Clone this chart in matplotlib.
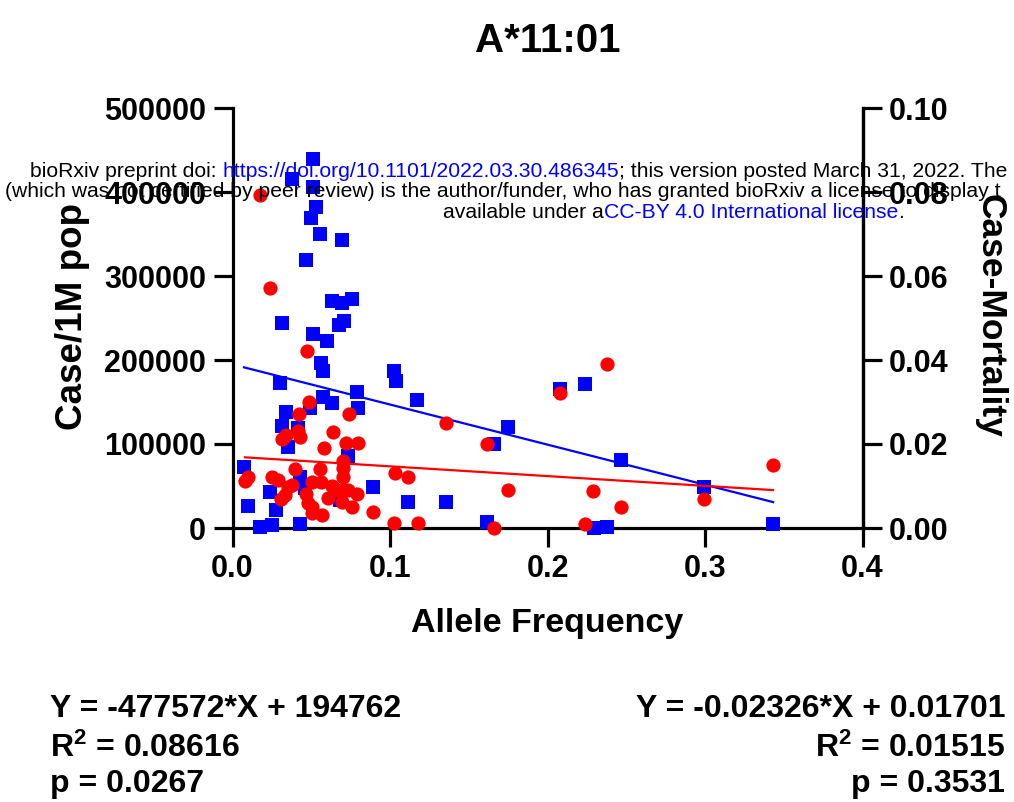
import matplotlib
matplotlib.use("Agg")
import matplotlib.pyplot as plt
import numpy as np

plt.rcParams['font.family'] = ['Liberation Sans', 'DejaVu Sans']
plt.rcParams['mathtext.fontset'] = 'custom'
plt.rcParams['mathtext.rm'] = 'Liberation Sans:bold'
plt.rcParams['mathtext.bf'] = 'Liberation Sans:bold'
plt.rcParams['mathtext.it'] = 'Liberation Sans:bold'

title = "A*11:01"
xlabel = "Allele Frequency"
ylabel_left = "Case/1M pop"
ylabel_right = "Case-Mortality"

# Blue squares: allele frequency vs cases per 1M population
case_x = [0.0511, 0.0378, 0.0511, 0.0530, 0.0498, 0.0556, 0.0695, 0.0467,
          0.0632, 0.0695, 0.0759, 0.0314, 0.0676, 0.0708, 0.0511, 0.0600,
          0.0562, 0.0575, 0.0302, 0.0790, 0.0575, 0.0632, 0.0797, 0.0492,
          0.0340, 0.0314, 0.0416, 0.0352, 0.0733, 0.0073, 0.0429, 0.0238,
          0.0460, 0.0683, 0.0892, 0.0098, 0.0276, 0.0175, 0.0251, 0.0429,
          0.1025, 0.1038, 0.1171, 0.1749, 0.1660, 0.1114, 0.1356, 0.1616,
          0.2079, 0.2238, 0.2467, 0.2295, 0.2378, 0.2994, 0.3432]
case_y = [439000, 415000, 406000, 382000, 369000, 350000, 343000, 319000,
          270000, 268000, 273000, 244000, 242000, 246000, 231000, 223000,
          196000, 187000, 173000, 162000, 156000, 149000, 143000, 143000,
          138000, 121000, 119000, 96000, 86000, 73000, 61000, 43000,
          48000, 33000, 49000, 26000, 21000, 1500, 3500, 5000,
          187000, 175000, 152000, 120000, 100000, 31000, 31000, 7000,
          165000, 172000, 81000, 500, 1000, 49000, 4500]

# Red circles: allele frequency vs case-mortality
mort_x = [0.0175, 0.0238, 0.0473, 0.0486, 0.0422, 0.0740, 0.0340, 0.0314,
          0.0416, 0.0429, 0.0638, 0.0581, 0.0721, 0.0797, 0.0702, 0.0702,
          0.0702, 0.0695, 0.0695, 0.0079, 0.0098, 0.0251, 0.0289, 0.0397,
          0.0505, 0.0562, 0.0556, 0.0352, 0.0378, 0.0333, 0.0308, 0.0467,
          0.0632, 0.0663, 0.0733, 0.0790, 0.0606, 0.0759, 0.0892, 0.0505,
          0.0505, 0.0568, 0.0479, 0.1356, 0.1616, 0.1032, 0.1114, 0.1749,
          0.1025, 0.1178, 0.1660, 0.2079, 0.2378, 0.2289, 0.2467, 0.2238,
          0.2994, 0.3432]
mort_y = [0.0793, 0.0571, 0.0421, 0.0300, 0.0272, 0.0272, 0.0221, 0.0212,
          0.0231, 0.0217, 0.0229, 0.0190, 0.0202, 0.0202, 0.0160, 0.0143,
          0.0121, 0.0090, 0.0062, 0.0112, 0.0121, 0.0121, 0.0114, 0.0140,
          0.0110, 0.0110, 0.0140, 0.0098, 0.0102, 0.0079, 0.0069, 0.0081,
          0.0100, 0.0090, 0.0090, 0.0081, 0.0071, 0.0050, 0.0038, 0.0050,
          0.0036, 0.0031, 0.0060, 0.0250, 0.0200, 0.0131, 0.0121, 0.0090,
          0.0012, 0.0012, 0.0001, 0.0321, 0.0390, 0.0088, 0.0050, 0.0010,
          0.0069, 0.0150]

# Regression results (as printed)
case_fit = [-477572, 194762]
mort_fit = [-0.02326, 0.01701]
case_stats = ["Y = -477572*X + 194762", r"R$^{2}$ = 0.08616", "p = 0.0267"]
mort_stats = ["Y = -0.02326*X + 0.01701", r"R$^{2}$ = 0.01515", "p = 0.3531"]

x_ticks = [0.0, 0.1, 0.2, 0.3, 0.4]
x_ticklabels = ["0.0", "0.1", "0.2", "0.3", "0.4"]
yl_ticks = [0, 100000, 200000, 300000, 400000, 500000]
yl_ticklabels = ["0", "100000", "200000", "300000", "400000", "500000"]
yr_ticks = [0.0, 0.02, 0.04, 0.06, 0.08, 0.10]
yr_ticklabels = ["0.00", "0.02", "0.04", "0.06", "0.08", "0.10"]

BLUE = "#0000FF"
RED = "#FF0000"

# Preprint watermark lines (pieces with colours)
wm_lines = [
    ([("bioRxiv preprint doi: ", "black"),
      ("https://doi.org/10.1101/2022.03.30.486345", BLUE),
      ("; this version posted March 31, 2022. The", "black")], 30, 177),
    ([("(which was not certified by peer review) is the author/funder, who has granted bioRxiv a license to display t", "black")], 5, 197),
    ([("available under a", "black"),
      ("CC-BY 4.0 International license", BLUE),
      (".", "black")], 443, 218),
]

W, H = 1014, 802
fig = plt.figure(figsize=(W / 100, H / 100), dpi=100)
ax = fig.add_axes([232.5 / W, 1 - 528 / H, 630 / W, 420 / H])
ax2 = ax.twinx()

ax.scatter(case_x, case_y, marker="s", s=95, color=BLUE, linewidths=0, zorder=3, clip_on=False)
xl = np.array([min(case_x), max(case_x)])
ax.plot(xl, case_fit[0] * xl + case_fit[1], color=BLUE, lw=1.6, zorder=4)

ax2.scatter(mort_x, mort_y, marker="o", s=105, color=RED, linewidths=0, zorder=3, clip_on=False)
xr = np.array([min(mort_x), max(mort_x)])
ax2.plot(xr, mort_fit[0] * xr + mort_fit[1], color=RED, lw=1.6, zorder=4)

ax.set_xlim(0, 0.4)
ax.set_ylim(0, 500000)
ax2.set_ylim(0, 0.10)

ax.set_xticks(x_ticks)
ax.set_xticklabels(x_ticklabels)
ax.set_yticks(yl_ticks)
ax.set_yticklabels(yl_ticklabels)
ax2.set_yticks(yr_ticks)
ax2.set_yticklabels(yr_ticklabels)

for a in (ax, ax2):
    for s in a.spines.values():
        s.set_linewidth(2.3)
    a.spines["top"].set_visible(False)
    a.tick_params(axis="both", which="major", length=14, width=2.3,
                  labelsize=22, direction="out", pad=5)
    for lab in a.get_xticklabels() + a.get_yticklabels():
        lab.set_fontweight("bold")
ax2.spines["left"].set_visible(False)
ax2.spines["bottom"].set_visible(False)

# Axis labels
fig.text(547.5 / W, 1 - 632 / H, xlabel, ha="center", va="baseline",
         fontsize=24.5, fontweight="bold")
fig.text(72 / W, 1 - 316 / H, ylabel_left, ha="center", va="center",
         rotation=90, fontsize=26.5, fontweight="bold")
fig.text(990 / W, 1 - 316 / H, ylabel_right, ha="center", va="center",
         rotation=270, fontsize=25.5, fontweight="bold")

# Title
fig.text(547.5 / W, 1 - 52 / H, title, ha="center", va="baseline",
         fontsize=29, fontweight="bold")

# Regression statistics
baselines = [717, 757, 792]
for txt, b in zip(case_stats, baselines):
    fig.text(50 / W, 1 - b / H, txt, ha="left", va="baseline",
             fontsize=23, fontweight="bold")
for txt, b in zip(mort_stats, baselines):
    fig.text(1005 / W, 1 - b / H, txt, ha="right", va="baseline",
             fontsize=23, fontweight="bold")

# Watermark overlay: pieces laid out one after another using rendered widths
wm_fs = 15.2
fig.canvas.draw()
renderer = fig.canvas.get_renderer()
for pieces, x0, yb in wm_lines:
    xpix = x0
    for txt, col in pieces:
        t = fig.text(xpix / W, 1 - yb / H, txt, color=col, fontsize=wm_fs,
                     ha="left", va="baseline", zorder=20)
        xpix += t.get_window_extent(renderer).width

fig.savefig("out.png", dpi=100)
